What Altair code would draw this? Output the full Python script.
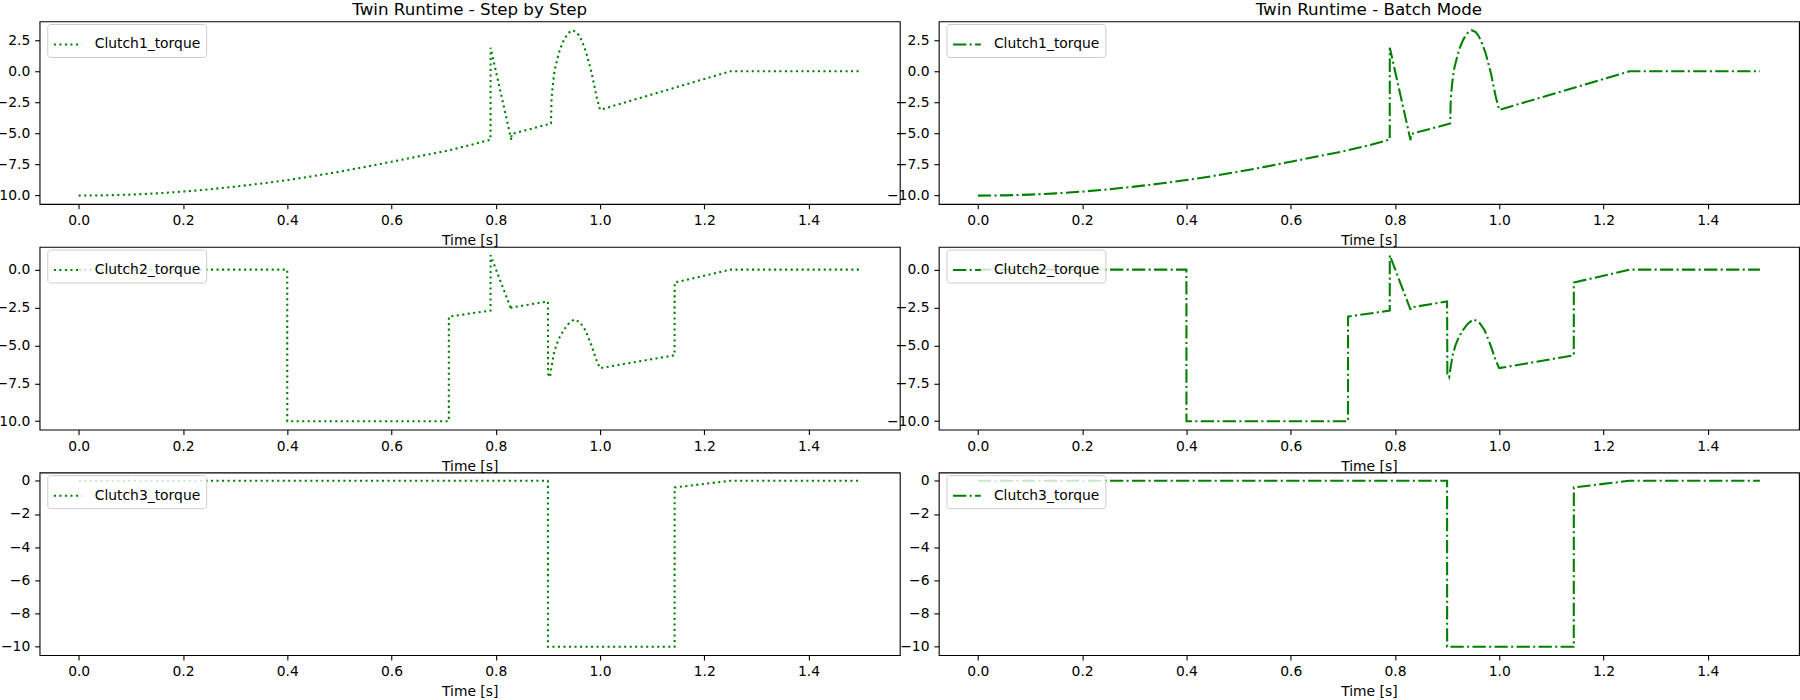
import altair as alt
import pandas as pd

# ---------------- data ----------------
t_c1 = [0.0, 0.05, 0.1, 0.15, 0.2, 0.25, 0.3, 0.35, 0.4, 0.45, 0.5, 0.55, 0.6, 0.65,
        0.7, 0.75, 0.79, 0.7901, 0.83, 0.8301, 0.906, 0.907, 0.910, 0.913, 0.918,
        0.923, 0.931, 0.939, 0.947, 0.955, 0.961, 0.967, 0.974, 0.979, 0.984, 0.988,
        0.993, 1.0, 1.25, 1.5]
y_c1 = [-10.0, -9.98, -9.92, -9.82, -9.68, -9.5, -9.28, -9.03, -8.75, -8.43, -8.08,
        -7.69, -7.28, -6.86, -6.45, -5.95, -5.5, 1.9, -5.55, -5.05, -4.2, -2.2, -0.9,
        0.1, 0.95, 1.75, 2.55, 3.07, 3.3, 3.15, 2.8, 2.25, 1.45, 0.65, -0.15, -0.95,
        -2.0, -3.1, 0.0, 0.0]

t_c2 = [0.0, 0.4, 0.4001, 0.71, 0.7101, 0.79, 0.7901, 0.83, 0.8301, 0.9, 0.9005,
        0.904, 0.907, 0.911, 0.916, 0.922, 0.93, 0.939, 0.95, 0.961, 0.972, 0.983,
        0.994, 1.0, 1.143, 1.1431, 1.25, 1.5]
y_c2 = [0.0, 0.0, -10.0, -10.0, -3.1, -2.7, 0.95, -2.65, -2.5, -2.1, -6.9, -7.1,
        -6.4, -5.6, -5.0, -4.5, -4.0, -3.6, -3.28, -3.45, -4.0, -4.95, -6.05, -6.5,
        -5.65, -0.85, 0.0, 0.0]

t_c3 = [0.0, 0.9, 0.9001, 1.143, 1.1431, 1.25, 1.5]
y_c3 = [0.0, 0.0, -10.0, -10.0, -0.4, 0.0, 0.0]

series_names = ["Clutch1_torque", "Clutch2_torque", "Clutch3_torque"]
column_titles = ["Twin Runtime - Step by Step", "Twin Runtime - Batch Mode"]
x_ticks = [0.0, 0.2, 0.4, 0.6, 0.8, 1.0, 1.2, 1.4]
y_ticks_c1 = [-10.0, -7.5, -5.0, -2.5, 0.0, 2.5]
y_ticks_c2 = [-10.0, -7.5, -5.0, -2.5, 0.0]
y_ticks_c3 = [-10, -8, -6, -4, -2, 0]

# ---------------- styling ----------------
FONT = "DejaVu Sans"
GREEN = "#008000"
LW = 2.08
DOTTED = [2.08, 3.44]
DASHDOT = [13.3, 3.33, 2.08, 3.33]
W, H = 861, 182.8

rows = [
    (t_c1, y_c1, series_names[0], [-10.67, 4.02], y_ticks_c1, ".1f"),
    (t_c2, y_c2, series_names[1], [-10.55, 1.5], y_ticks_c2, ".1f"),
    (t_c3, y_c3, series_names[2], [-10.5, 0.5], y_ticks_c3, "d"),
]


def panel(t, y, name, ydom, yticks, yfmt, dash, title_text=None):
    df = pd.DataFrame({"t": t, "y": y, "series": name, "i": list(range(len(t)))})
    leg = alt.Legend(
        title=None, orient="none", legendX=7.7, legendY=2.7, padding=5.5,
        fillColor="rgba(255,255,255,0.8)", strokeColor="#cccccc", cornerRadius=3,
        symbolType="stroke", symbolSize=773, symbolStrokeWidth=LW,
        labelFont=FONT, labelFontSize=13.9, labelColor="black", labelOffset=12,
    )
    props = dict(width=W, height=H)
    if title_text:
        props["title"] = alt.TitleParams(
            title_text, font=FONT, fontSize=16.7, fontWeight="normal", color="black",
            anchor="middle", offset=2.6,
        )
    return alt.Chart(df).mark_line(strokeWidth=LW, strokeCap="butt").encode(
        x=alt.X("t:Q", scale=alt.Scale(domain=[-0.075, 1.575], nice=False, zero=False),
                axis=alt.Axis(values=x_ticks, format=".1f", title="Time [s]")),
        y=alt.Y("y:Q", scale=alt.Scale(domain=ydom, nice=False, zero=False),
                axis=alt.Axis(values=yticks, format=yfmt, title=None)),
        color=alt.Color("series:N", scale=alt.Scale(range=[GREEN]), legend=leg),
        strokeDash=alt.StrokeDash("series:N", scale=alt.Scale(range=[dash]), legend=leg),
        order=alt.Order("i:Q"),
    ).properties(**props)


charts = []
for r, (t, y, name, ydom, yticks, yfmt) in enumerate(rows):
    for c, dash in enumerate([DOTTED, DASHDOT]):
        charts.append(panel(t, y, name, ydom, yticks, yfmt, dash,
                            column_titles[c] if r == 0 else None))

chart = alt.concat(*charts, columns=2, spacing={"row": 42.8, "column": 39}, bounds="flush").resolve_scale(
    x="independent", y="independent", color="independent", strokeDash="independent"
).resolve_legend(
    color="independent", strokeDash="independent"
).properties(
    padding={"left": -13.4, "top": 1, "right": 0, "bottom": 0},
    background="white",
).configure_view(
    stroke="black", strokeWidth=1.1
).configure_axis(
    labelFont=FONT, labelFontSize=13.9, labelColor="black",
    titleFont=FONT, titleFontSize=13.9, titleFontWeight="normal", titleColor="black",
    tickColor="black", tickSize=4.9, tickWidth=1.1, labelPadding=4.9,
    domain=False, grid=False, titlePadding=6,
)

chart.save("out.html", embed_options={"renderer": "svg", "actions": False})
